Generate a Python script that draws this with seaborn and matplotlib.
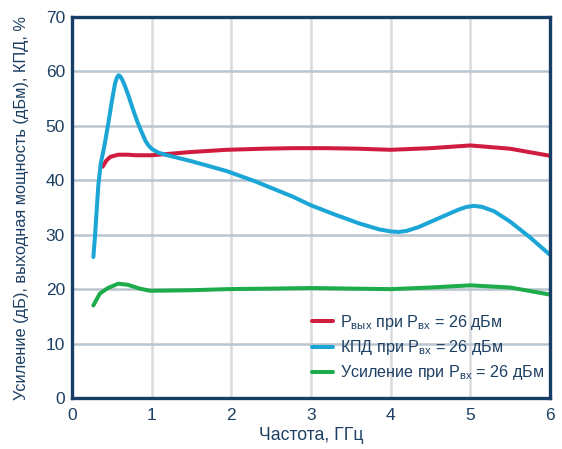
import matplotlib
matplotlib.use("Agg")
import matplotlib.pyplot as plt
import seaborn as sns

# ---- data ----
freq_pout = [0.385, 0.43, 0.48, 0.58, 0.7, 0.8, 1.0, 1.17, 1.5, 1.94, 2.4, 2.77, 3.2, 3.6, 4.0, 4.5, 5.0, 5.5, 6.0]
pout = [42.5, 43.6, 44.3, 44.7, 44.7, 44.6, 44.6, 44.8, 45.2, 45.6, 45.8, 45.9, 45.9, 45.8, 45.6, 45.9, 46.4, 45.8, 44.5]

freq_eff = [0.268, 0.29, 0.31, 0.33, 0.36, 0.41, 0.456, 0.50, 0.54, 0.565, 0.585, 0.605, 0.63, 0.665, 0.71,
            0.75, 0.79, 0.83, 0.87, 0.92, 0.96, 1.0, 1.08, 1.17, 1.5, 1.94, 2.3, 2.77, 3.0, 3.3, 3.6,
            3.85, 4.0, 4.1, 4.2, 4.35, 4.6, 4.85, 4.95, 5.05, 5.15, 5.3, 5.5, 5.75, 6.0]
eff = [25.9, 30.0, 34.5, 39.0, 43.0, 46.6, 50.5, 54.5, 57.8, 58.9, 59.3, 59.1, 58.5, 57.3, 55.5,
       53.7, 52.0, 50.4, 49.0, 47.3, 46.4, 45.8, 45.1, 44.7, 43.5, 41.7, 39.8, 37.0, 35.4, 33.7, 32.1,
       31.0, 30.6, 30.5, 30.7, 31.4, 33.0, 34.6, 35.1, 35.3, 35.1, 34.3, 32.4, 29.5, 26.3]

freq_gain = [0.268, 0.32, 0.35, 0.45, 0.58, 0.7, 0.85, 0.98, 1.5, 1.94, 2.5, 3.0, 3.5, 4.0, 4.5, 5.0, 5.5, 6.0]
gain = [17.0, 18.4, 19.2, 20.2, 21.0, 20.8, 20.1, 19.7, 19.8, 20.0, 20.1, 20.2, 20.1, 20.0, 20.3, 20.7, 20.3, 19.0]

labels = ["P$_{\\mathregular{вых}}$ при P$_{\\mathregular{вх}}$ = 26 дБм",
          "КПД при P$_{\\mathregular{вх}}$ = 26 дБм",
          "Усиление при P$_{\\mathregular{вх}}$ = 26 дБм"]
colors = ["#d01c3f", "#1ba6d6", "#1eab4c"]

x_ticks = [0, 1, 2, 3, 4, 5, 6]
y_ticks = [0, 10, 20, 30, 40, 50, 60, 70]

navy = "#163e66"
text_col = "#1d3f63"

sns.set_theme(style="white")
plt.rcParams["font.family"] = ["Liberation Sans", "DejaVu Sans"]
plt.rcParams["mathtext.fontset"] = "custom"
plt.rcParams["mathtext.rm"] = "Liberation Sans"

fig = plt.figure(figsize=(5.62, 4.49), dpi=100)
ax = fig.add_axes([72 / 562, 1 - 398 / 449, (550 - 72) / 562, (398 - 17) / 449])

# grid
for xv in x_ticks[1:-1]:
    ax.axvline(xv, color="#d9dadc", lw=1.8, zorder=0)
for yv in y_ticks[1:-1]:
    ax.axhline(yv, color="#b9c5d1", lw=1.8, zorder=0)

sns.lineplot(x=freq_pout, y=pout, ax=ax, color=colors[0], lw=2.9, label=labels[0], sort=False)
sns.lineplot(x=freq_eff, y=eff, ax=ax, color=colors[1], lw=2.9, label=labels[1], sort=False)
sns.lineplot(x=freq_gain, y=gain, ax=ax, color=colors[2], lw=2.9, label=labels[2], sort=False)

ax.set_xlim(0, 6)
ax.set_ylim(0, 70)
ax.set_xticks(x_ticks)
ax.set_yticks(y_ticks)
ax.tick_params(axis="both", length=0, labelsize=12.5, labelcolor=text_col)
ax.tick_params(axis="x", pad=7)
ax.tick_params(axis="y", pad=5)
for s in ax.spines.values():
    s.set_color(navy)
    s.set_linewidth(2.4)

ax.set_xlabel("Частота, ГГц", fontsize=12.7, color=text_col, labelpad=3)
ax.set_ylabel("Усиление (дБ), выходная мощность (дБм), КПД, %", fontsize=11.8,
              color=text_col, labelpad=12)

leg = ax.legend(loc="lower right", bbox_to_anchor=(1.005, 0.02), frameon=False,
                fontsize=11.6, handlelength=1.3, handletextpad=0.45, labelspacing=0.38,
                borderaxespad=0.1)
for t in leg.get_texts():
    t.set_color(text_col)

fig.savefig("out.png", dpi=100)
